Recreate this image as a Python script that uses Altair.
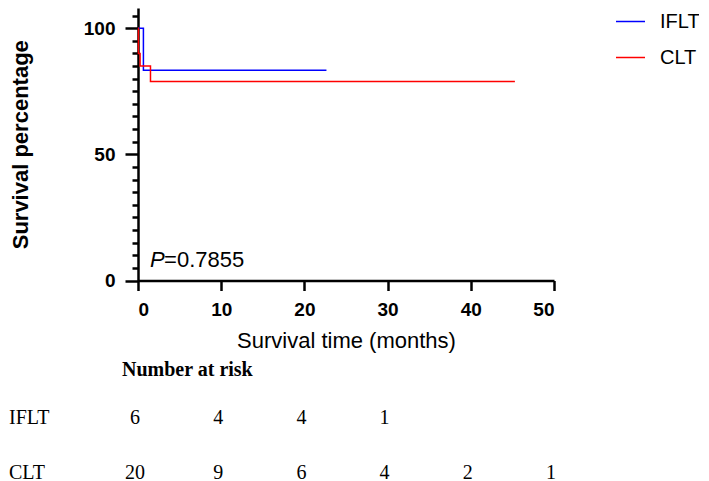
import altair as alt
import pandas as pd

# ---- data ----
groups = ["IFLT", "CLT"]
colors = ["#0000FF", "#FF0000"]
iflt_time = [0, 0.65, 22.65]
iflt_surv = [100, 83.33, 83.33]
clt_time = [0, 0.05, 0.25, 1.5, 45.3]
clt_surv = [100, 90, 85, 78.9, 78.9]

risk_times = [0, 10, 20, 30, 40, 50]
iflt_risk = [6, 4, 4, 1]
clt_risk = [20, 9, 6, 4, 2, 1]
risk_header = "Number at risk"

p_label = "P"
p_value = "=0.7855"
p_time = 1.45      # annotation anchor in data units
p_surv = 5.3

# ---- tables ----
km = pd.DataFrame(
    [{"time": t, "surv": s, "group": "IFLT"} for t, s in zip(iflt_time, iflt_surv)]
    + [{"time": t, "surv": s, "group": "CLT"} for t, s in zip(clt_time, clt_surv)]
)
risk = pd.DataFrame(
    [{"time": t, "row": "IFLT", "n": str(n)} for t, n in zip(risk_times, iflt_risk)]
    + [{"time": t, "row": "CLT", "n": str(n)} for t, n in zip(risk_times, clt_risk)]
)
row_labels = pd.DataFrame({"row": groups})
header = pd.DataFrame({"txt": [risk_header]})
pdf = pd.DataFrame({"time": [p_time], "surv": [p_surv]})

SANS = "Liberation Sans"
SERIF = "Liberation Serif"

xscale = alt.Scale(domain=[0, 50], nice=False, zero=False)
yscale = alt.Scale(domain=[0, 108], nice=False)
rowscale = alt.Scale(type="point", domain=groups, range=[410, 465], padding=0)

x_axis = alt.Axis(
    values=risk_times, tickSize=10, tickWidth=2.5, domainWidth=2.5,
    domainColor="black", tickColor="black", labelColor="black",
    labelFont=SANS, labelFontSize=19, labelFontWeight="bold", labelPadding=10,
    title="Survival time (months)", titleFont=SANS, titleFontSize=22,
    titleFontWeight="normal", titleColor="black", titlePadding=11, grid=False,
)
y_axis = alt.Axis(
    values=list(range(0, 106, 5)),
    labelExpr="datum.value % 50 === 0 ? datum.label : ''",
    tickSize={"condition": {"test": "datum.value % 50 === 0", "value": 13}, "value": 6},
    tickWidth=2.5, domainWidth=2.5, domainColor="black", tickColor="black",
    labelColor="black", labelFont=SANS, labelFontSize=19, labelFontWeight="bold",
    labelPadding=10, title="Survival percentage", titleFont=SANS, titleFontSize=22,
    titleFontWeight="bold", titleColor="black", titleX=-106, grid=False,
)

X = alt.X("time:Q", scale=xscale, axis=x_axis)

lines = alt.Chart(km).mark_line(interpolate="step-after", strokeWidth=1.5).encode(
    x=X,
    y=alt.Y("surv:Q", scale=yscale, axis=y_axis),
    color=alt.Color(
        "group:N",
        scale=alt.Scale(domain=groups, range=colors),
        legend=alt.Legend(
            orient="none", legendX=477, legendY=-2, title=None,
            symbolType="stroke", symbolSize=841, symbolStrokeWidth=1.5,
            labelFont=SANS, labelFontSize=20, labelColor="black",
            labelOffset=14, rowPadding=10, padding=0,
        ),
    ),
)

p1 = alt.Chart(pdf).mark_text(
    text=p_label, font=SANS, fontSize=22, fontStyle="italic", align="left",
    baseline="alphabetic", color="black",
).encode(x=X, y=alt.Y("surv:Q", scale=yscale, axis=None))
p2 = alt.Chart(pdf).mark_text(
    text=p_value, font=SANS, fontSize=22, align="left", baseline="alphabetic",
    color="black", dx=14,
).encode(x=X, y=alt.Y("surv:Q", scale=yscale, axis=None))

nums = alt.Chart(risk).mark_text(
    font=SERIF, fontSize=20, align="center", baseline="middle", color="black", dx=-3,
).encode(
    x=X,
    y=alt.Y("row:N", scale=rowscale, axis=None),
    text="n:N",
)
labels = alt.Chart(row_labels).mark_text(
    font=SERIF, fontSize=20, align="left", baseline="middle", color="black",
).encode(
    x=alt.value(-129),
    y=alt.Y("row:N", scale=rowscale, axis=None),
    text="row:N",
)
head = alt.Chart(header).mark_text(
    font=SERIF, fontSize=20, fontWeight="bold", align="left", baseline="middle", color="black",
).encode(
    x=alt.value(-16),
    y=alt.value(362),
    text="txt:N",
)

chart = (
    alt.layer(lines, p1, p2, nums, labels, head)
    .resolve_scale(y="independent")
    .properties(
        width=416, height=272.5,
        autosize=alt.AutoSizeParams(type="none"),
        padding={"left": 130, "top": 0, "right": 145, "bottom": 205},
        background="white",
    )
    .configure_view(strokeWidth=0)
)

chart.save("out.html", embed_options={"renderer": "svg", "actions": False})
